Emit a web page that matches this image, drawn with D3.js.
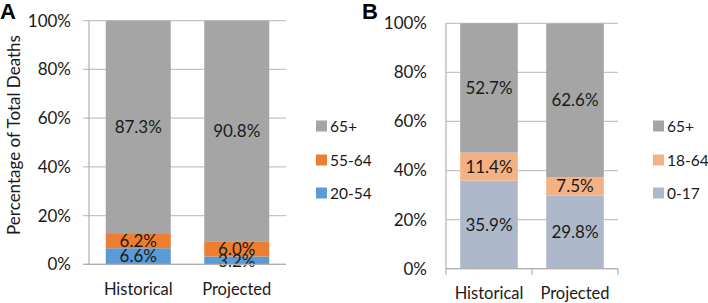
<!DOCTYPE html>
<html><head><meta charset="utf-8">
<script src="https://cdn.jsdelivr.net/npm/d3@7/dist/d3.min.js"></script>
<style>body{margin:0;background:#fff}svg{display:block}text{font-family:Lato,"Open Sans",sans-serif;fill:#1a1a1a}</style>
</head><body><svg id="c" width="708" height="303"></svg>
<script>
const categories = ["Historical", "Projected"];
const yTicks = [0, 20, 40, 60, 80, 100];
// Panel A
const seriesA = ["20-54", "55-64", "65+"];
const valuesA = {"20-54": [6.6, 3.2], "55-64": [6.2, 6.0], "65+": [87.3, 90.8]};
const colorsA = ["#5B9BD5", "#ED7D31", "#A5A5A5"];
// Panel B
const seriesB = ["0-17", "18-64", "65+"];
const valuesB = {"0-17": [35.9, 29.8], "18-64": [11.4, 7.5], "65+": [52.7, 62.6]};
const colorsB = ["#ADB9CA", "#F4B183", "#A5A5A5"];

const svg = d3.select("#c");

function panel(o) {
  const g = svg.append("g");
  const x = d3.scaleBand().domain(categories).range([o.x0, o.x1]).paddingInner(o.pad).paddingOuter(o.pad / 2);
  const y = d3.scaleLinear().domain([0, 100]).range([o.y0, o.y1]);
  g.selectAll("line.grid").data(yTicks).join("line")
    .attr("x1", o.x0 - o.tickOut).attr("x2", o.x1)
    .attr("y1", d => y(d)).attr("y2", d => y(d))
    .attr("stroke", "#C4C4C4").attr("stroke-width", 1.2);
  g.append("line").attr("x1", o.x0).attr("x2", o.x0).attr("y1", y(100)).attr("y2", y(0))
    .attr("stroke", "#B0B0B0").attr("stroke-width", 1.2);
  g.selectAll("text.yt").data(yTicks).join("text")
    .attr("x", o.tickX).attr("y", d => y(d)).attr("dy", "0.35em")
    .attr("text-anchor", "end").style("font-size", "17px").text(d => d + "%");
  const table = categories.map((c, i) => { const r = {cat: c}; o.series.forEach(s => r[s] = o.values[s][i]); return r; });
  const stack = d3.stack().keys(o.series)(table);
  stack.forEach((layer, li) => {
    g.selectAll(null).data(layer).join("rect")
      .attr("x", d => x(d.data.cat)).attr("width", x.bandwidth())
      .attr("y", d => y(Math.min(d[1], 100))).attr("height", d => y(d[0]) - y(Math.min(d[1], 100)))
      .attr("fill", o.colors[li]);
  });
  stack.forEach((layer, li) => {
    g.selectAll(null).data(layer).join("text")
      .attr("x", d => x(d.data.cat) + x.bandwidth() / 2)
      .attr("y", d => y((d[0] + Math.min(d[1], 100)) / 2)).attr("dy", "0.36em")
      .attr("text-anchor", "middle").style("font-size", "17px")
      .text(d => d3.format(".1f")(d[1] - d[0]) + "%");
  });
  g.append("line").attr("x1", o.x0 - o.tickOut).attr("x2", o.x1).attr("y1", y(0)).attr("y2", y(0))
    .attr("stroke", "#B0B0B0").attr("stroke-width", 1.2);
  if (o.xTicks) {
    const b = [o.x0, (o.x0 + o.x1) / 2, o.x1];
    g.selectAll(null).data(b).join("line").attr("x1", d => d).attr("x2", d => d)
      .attr("y1", y(0)).attr("y2", y(0) + 6).attr("stroke", "#B0B0B0").attr("stroke-width", 1.2);
  }
  g.selectAll(null).data(categories).join("text")
    .attr("x", d => x(d) + x.bandwidth() / 2).attr("y", o.xLabelY)
    .attr("text-anchor", "middle").style("font-size", "16.5px").text(d => d);
  const leg = o.series.slice().reverse();
  const lc = o.colors.slice().reverse();
  leg.forEach((s, i) => {
    const ly = o.legY[i];
    g.append("rect").attr("x", o.legX).attr("y", ly - 5.5).attr("width", 11).attr("height", 11).attr("fill", lc[i]);
    g.append("text").attr("x", o.legX + 14).attr("y", ly).attr("dy", "0.36em").style("font-size", "15.5px").text(s);
  });
  g.append("text").attr("x", o.letterX).attr("y", 19).style("font-family", "'Liberation Sans',Arial,sans-serif")
    .style("font-weight", "bold").style("font-size", "22px").style("fill", "#000").text(o.letter);
}

panel({letter: "A", letterX: 0, x0: 89, x1: 286, y0: 264.3, y1: 20.7, pad: 0.34, tickOut: 6, tickX: 71,
  series: seriesA, values: valuesA, colors: colorsA, xLabelY: 295, xTicks: false,
  legX: 316, legY: [126, 160, 193]});
panel({letter: "B", letterX: 362, x0: 446, x1: 618, y0: 268.7, y1: 23.3, pad: 0.33, tickOut: 0, tickX: 427,
  series: seriesB, values: valuesB, colors: colorsB, xLabelY: 299, xTicks: true,
  legX: 653, legY: [126, 160, 193]});

svg.append("text").attr("transform", "translate(20,135) rotate(-90)").attr("text-anchor", "middle")
  .style("font-size", "17px").text("Percentage of Total Deaths");
</script></body></html>
